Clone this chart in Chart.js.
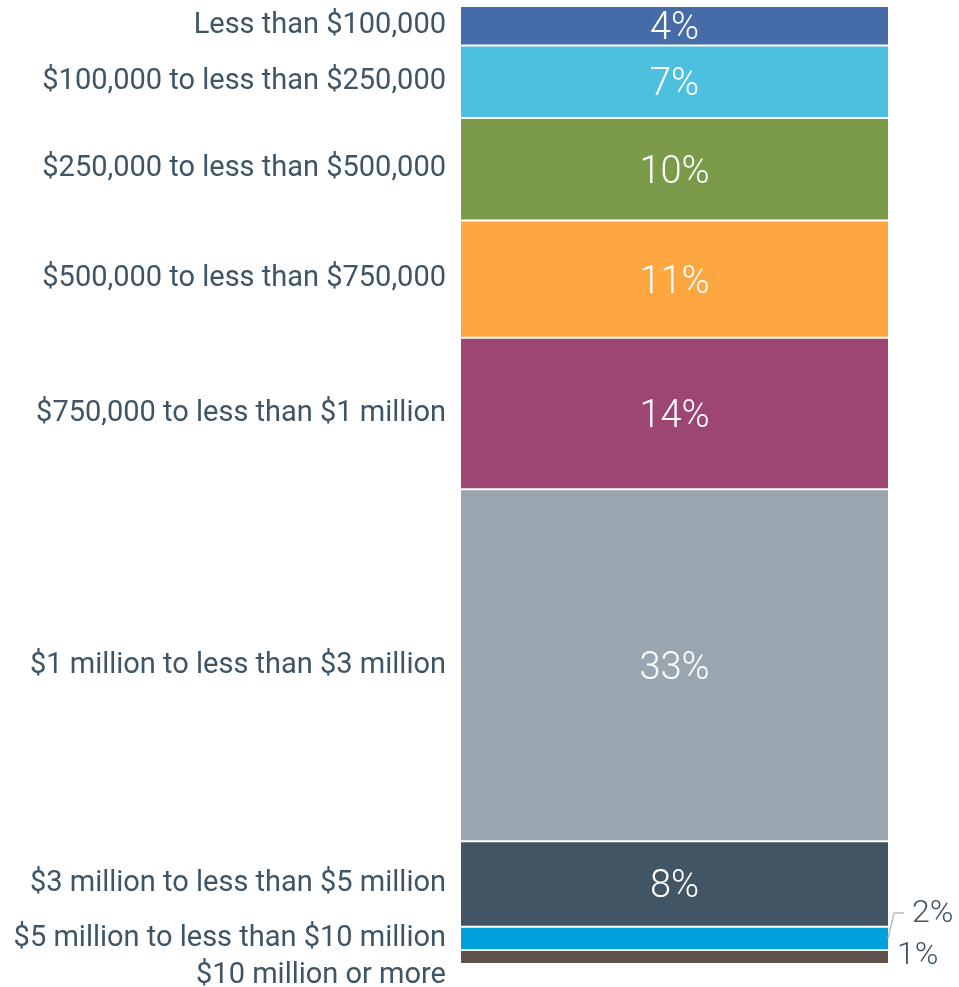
<!DOCTYPE html>
<html>
<head>
<meta charset="utf-8">
<script src="https://cdn.jsdelivr.net/npm/chart.js@4.4.1/dist/chart.umd.min.js"></script>
<style>
  html, body { margin: 0; padding: 0; background: #ffffff; }
  #wrap { width: 959px; height: 987px; }
</style>
</head>
<body>
<div id="wrap"><canvas id="c" width="959" height="987"></canvas></div>
<script>
// ---- data ----
const categories = [
  'Less than $100,000',
  '$100,000 to less than $250,000',
  '$250,000 to less than $500,000',
  '$500,000 to less than $750,000',
  '$750,000 to less than $1 million',
  '$1 million to less than $3 million',
  '$3 million to less than $5 million',
  '$5 million to less than $10 million',
  '$10 million or more'
];
const shares = [3.7, 6.8, 9.6, 11.0, 14.2, 33.0, 8.0, 2.2, 1.3];
const shareLabels = ['4%', '7%', '10%', '11%', '14%', '33%', '8%', '2%', '1%'];

// ---- styling ----
const palette = ['#456ba9', '#4dc0e0', '#7c9b4a', '#fea640', '#9e4673', '#99a6af', '#415564', '#00a0dd', '#5f524d'];
const textColor = '#3f5565';
const FONT = 'Roboto, "Liberation Sans", sans-serif';

const total = shares.reduce((a, b) => a + b, 0);

const labelPlugin = {
  id: 'segmentLabels',
  afterDatasetsDraw(chart) {
    const ctx = chart.ctx;
    const area = chart.chartArea;
    const els = chart.data.datasets.map((d, i) => chart.getDatasetMeta(i).data[0]);
    ctx.save();
    // category labels on the left, pushed down when crowded
    ctx.font = '29px ' + FONT;
    ctx.fillStyle = textColor;
    ctx.textAlign = 'right';
    ctx.textBaseline = 'middle';
    let prev = -Infinity;
    const minGap = 37;
    els.forEach((el, i) => {
      let cy = (el.y + el.base) / 2;
      if (cy < prev + minGap) cy = prev + minGap;
      prev = cy;
      ctx.fillText(categories[i], area.left - 15, cy);
    });
    // value labels
    const cx = (area.left + area.right) / 2;
    const outside = [];
    els.forEach((el, i) => {
      const h = Math.abs(el.base - el.y);
      const cy = (el.y + el.base) / 2;
      if (h > 30) {
        ctx.font = '300 38px ' + FONT;
        ctx.fillStyle = '#ffffff';
        ctx.textAlign = 'center';
        ctx.fillText(shareLabels[i], cx, cy + 4);
      } else {
        outside.push({ i, cy });
      }
    });
    // outside labels, bottom up
    ctx.font = '300 32px ' + FONT;
    ctx.fillStyle = textColor;
    ctx.textAlign = 'left';
    let prevOut = Infinity;
    const outGap = 44;
    for (let k = outside.length - 1; k >= 0; k--) {
      const o = outside[k];
      let y = o.cy;
      let shifted = false;
      if (y > prevOut - outGap) { y = prevOut - outGap; shifted = true; }
      prevOut = y;
      if (shifted) {
        ctx.strokeStyle = '#b4bec6';
        ctx.lineWidth = 1.5;
        ctx.beginPath();
        ctx.moveTo(area.right, o.cy);
        ctx.lineTo(area.right + 6, y);
        ctx.lineTo(area.right + 16, y);
        ctx.stroke();
        ctx.fillText(shareLabels[o.i], area.right + 24, y + 1);
      } else {
        ctx.fillText(shareLabels[o.i], area.right + 9, y - 1);
      }
    }
    ctx.restore();
  }
};

new Chart(document.getElementById('c'), {
  type: 'bar',
  data: {
    labels: [''],
    datasets: categories.map((c, i) => ({
      label: c,
      data: [shares[i]],
      backgroundColor: palette[i],
      borderColor: '#ffffff',
      borderWidth: { top: 1.3, bottom: 1.3, left: 0, right: 0 },
      borderSkipped: false,
      barPercentage: 1,
      categoryPercentage: 1
    }))
  },
  options: {
    responsive: false,
    animation: false,
    layout: { padding: { left: 461, right: 71, top: 6, bottom: 23 } },
    plugins: { legend: { display: false }, tooltip: { enabled: false } },
    scales: {
      x: { stacked: true, display: false },
      y: { stacked: true, display: false, reverse: true, min: 0, max: total }
    }
  },
  plugins: [labelPlugin]
});
</script>
</body>
</html>
